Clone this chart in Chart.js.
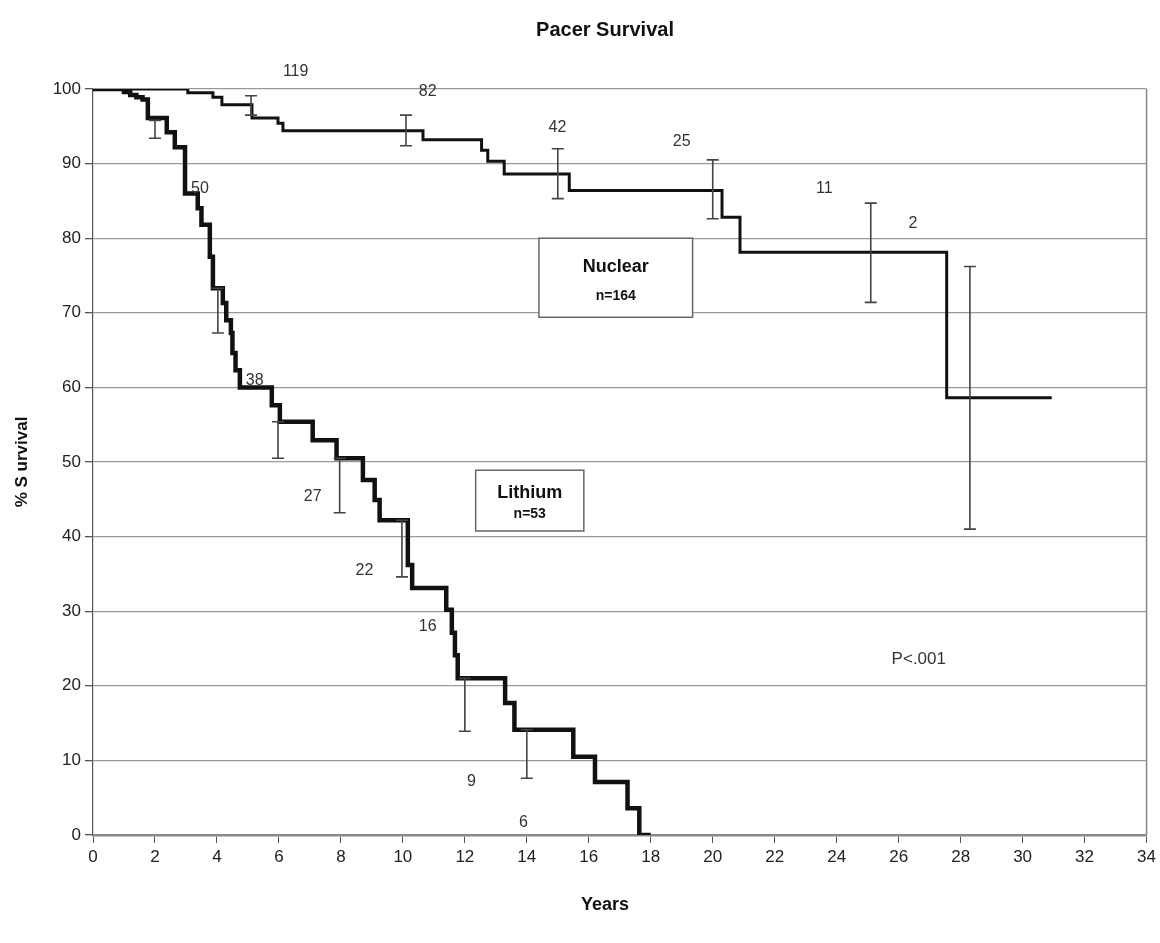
<!DOCTYPE html>
<html>
<head>
<meta charset="utf-8">
<script src="https://cdn.jsdelivr.net/npm/chart.js@4.4.1/dist/chart.umd.min.js"></script>
<style>
html,body{margin:0;padding:0;background:#fff;}
#wrap{width:1160px;height:943px;position:relative;}
</style>
</head>
<body>
<div id="wrap"><canvas id="c" width="1160" height="943"></canvas></div>
<script>
// ---- Data ----
const lithiumYears = [0, 0.8, 1.0, 1.2, 1.4, 1.6, 1.77, 1.77, 2.38, 2.64, 2.97, 3.38, 3.5, 3.77, 3.87, 4.19, 4.3, 4.45, 4.5, 4.6, 4.74, 5.77, 6.03, 7.09, 7.86, 8.71, 9.09, 9.25, 10.16, 10.3, 11.4, 11.58, 11.68, 11.77, 13.3, 13.6, 15.5, 16.2, 17.25, 17.63, 18.0];
const lithiumSurvival = [100, 100, 99.6, 99.2, 98.9, 98.6, 98.3, 96.1, 94.2, 92.2, 86.0, 84.0, 81.8, 77.5, 73.3, 71.3, 69.0, 67.3, 64.6, 62.3, 60.0, 57.6, 55.4, 52.9, 50.5, 47.6, 44.9, 42.2, 36.2, 33.1, 30.2, 27.1, 24.1, 21.0, 17.7, 14.1, 10.5, 7.1, 3.6, 0, 0];

const nuclearYears = [0, 3.06, 3.87, 4.16, 5.13, 5.97, 6.13, 10.65, 12.54, 12.74, 13.27, 15.37, 20.3, 20.88, 27.55, 30.94];
const nuclearSurvival = [100, 99.5, 98.9, 97.9, 96.1, 95.4, 94.4, 93.2, 91.8, 90.3, 88.6, 86.4, 82.8, 78.1, 58.6, 58.6];

const nuclearErrYears = [5.1, 10.1, 15.0, 20.0, 25.1, 28.3];
const nuclearErrLow  = [96.5, 92.4, 85.3, 82.6, 71.4, 41.0];
const nuclearErrHigh = [99.1, 96.5, 92.0, 90.5, 84.7, 76.2];

const lithiumErrYears = [2.0, 4.03, 5.97, 7.96, 9.97, 12.0, 14.0];
const lithiumErrLow  = [93.4, 67.3, 50.5, 43.2, 34.6, 13.9, 7.6];
const lithiumErrHigh = [95.8, 73.3, 55.4, 50.5, 42.2, 21.0, 14.1];

const nuclearAtRisk = ['119', '82', '42', '25', '11', '2'];
const nuclearAtRiskX = [6.54, 10.8, 14.99, 19.0, 23.6, 26.46];
const nuclearAtRiskY = [102.3, 99.6, 94.8, 92.9, 86.7, 82.0];

const lithiumAtRisk = ['50', '38', '27', '22', '16', '9', '6'];
const lithiumAtRiskX = [3.45, 5.22, 7.09, 8.76, 10.8, 12.21, 13.89];
const lithiumAtRiskY = [86.6, 60.9, 45.4, 35.4, 28.0, 7.2, 1.6];

const xTicks = [0,2,4,6,8,10,12,14,16,18,20,22,24,26,28,30,32,34];
const yTicks = [0,10,20,30,40,50,60,70,80,90,100];

const FONT = '"Liberation Sans", Arial, sans-serif';

function pts(xs, ys){ return xs.map((x,i)=>({x:x, y:ys[i]})); }

const overlay = {
  id: 'overlay',
  afterDatasetsDraw(chart){
    const ctx = chart.ctx;
    const xs = chart.scales.x, ys = chart.scales.y;
    const ca = chart.chartArea;
    ctx.save();
    // right border
    ctx.strokeStyle = '#888';
    ctx.lineWidth = 1.5;
    ctx.beginPath();
    ctx.moveTo(ca.right, ca.top);
    ctx.lineTo(ca.right, ca.bottom);
    ctx.stroke();

    // error bars
    function bars(xArr, lo, hi){
      ctx.strokeStyle = '#444';
      ctx.lineWidth = 1.6;
      for (let i=0;i<xArr.length;i++){
        const px = xs.getPixelForValue(xArr[i]);
        const p1 = ys.getPixelForValue(hi[i]);
        const p2 = ys.getPixelForValue(lo[i]);
        ctx.beginPath();
        ctx.moveTo(px, p1); ctx.lineTo(px, p2);
        ctx.moveTo(px-6, p1); ctx.lineTo(px+6, p1);
        ctx.moveTo(px-6, p2); ctx.lineTo(px+6, p2);
        ctx.stroke();
      }
    }
    bars(nuclearErrYears, nuclearErrLow, nuclearErrHigh);
    bars(lithiumErrYears, lithiumErrLow, lithiumErrHigh);

    // at-risk labels
    ctx.fillStyle = '#333';
    ctx.font = '16px ' + FONT;
    ctx.textAlign = 'center';
    ctx.textBaseline = 'middle';
    nuclearAtRisk.forEach((t,i)=>ctx.fillText(t, xs.getPixelForValue(nuclearAtRiskX[i]), ys.getPixelForValue(nuclearAtRiskY[i])));
    lithiumAtRisk.forEach((t,i)=>ctx.fillText(t, xs.getPixelForValue(lithiumAtRiskX[i]), ys.getPixelForValue(lithiumAtRiskY[i])));

    // P value
    ctx.font = '17px ' + FONT;
    ctx.fillText('P<.001', xs.getPixelForValue(26.65), ys.getPixelForValue(23.5));

    // group boxes
    function box(x0, x1, y0, y1, name, n){
      const l = xs.getPixelForValue(x0), r = xs.getPixelForValue(x1);
      const t = ys.getPixelForValue(y0), b = ys.getPixelForValue(y1);
      ctx.fillStyle = '#fff';
      ctx.fillRect(l, t, r-l, b-t);
      ctx.strokeStyle = '#666';
      ctx.lineWidth = 1.5;
      ctx.strokeRect(l, t, r-l, b-t);
      ctx.fillStyle = '#111';
      ctx.font = 'bold 18px ' + FONT;
      const cx = (l+r)/2;
      ctx.fillText(name, cx, t + (b-t)*0.37);
      ctx.font = 'bold 14px ' + FONT;
      ctx.fillText(n, cx, t + (b-t)*0.73);
    }
    box(14.39, 19.35, 80.0, 69.4, 'Nuclear', 'n=164');
    box(12.35, 15.84, 48.9, 40.75, 'Lithium', 'n=53');

    // titles
    ctx.fillStyle = '#111';
    ctx.font = 'bold 20px ' + FONT;
    ctx.fillText('Pacer Survival', 605, 30);
    ctx.font = 'bold 18px ' + FONT;
    ctx.fillText('Years', 605, 905);
    ctx.save();
    ctx.translate(22, 462);
    ctx.rotate(-Math.PI/2);
    ctx.font = 'bold 17px ' + FONT;
    ctx.fillText('% S urvival', 0, 0);
    ctx.restore();
    ctx.restore();
  }
};

new Chart(document.getElementById('c'), {
  type: 'line',
  data: {
    datasets: [
      {
        label: 'Nuclear',
        data: pts(nuclearYears, nuclearSurvival),
        borderColor: '#111',
        borderWidth: 3,
        stepped: true,
        pointRadius: 0,
        fill: false
      },
      {
        label: 'Lithium',
        data: pts(lithiumYears, lithiumSurvival),
        borderColor: '#111',
        borderWidth: 4.5,
        stepped: true,
        pointRadius: 0,
        fill: false
      }
    ]
  },
  options: {
    responsive: false,
    animation: false,
    layout: { padding: { top: 89, right: 13, left: 0, bottom: 0 } },
    plugins: { legend: { display: false }, title: { display: false }, tooltip: { enabled: false } },
    scales: {
      x: {
        type: 'linear',
        min: 0, max: 34,
        afterBuildTicks(s){ s.ticks = xTicks.map(v=>({value:v})); },
        afterFit(s){ s.height = 108; },
        grid: { drawOnChartArea: false, drawTicks: true, tickLength: 8, color: '#555', lineWidth: 1 },
        border: { color: '#8a8a8a', width: 2.5 },
        ticks: { color: '#222', font: { family: FONT, size: 17 }, padding: 4, maxRotation: 0, autoSkip: false }
      },
      y: {
        type: 'linear',
        min: 0, max: 100,
        afterBuildTicks(s){ s.ticks = yTicks.map(v=>({value:v})); },
        afterFit(s){ s.width = 93; },
        grid: { color: '#9a9a9a', lineWidth: 1.3, tickLength: 8, tickColor: '#555', drawTicks: true },
        border: { color: '#555', width: 1.2 },
        ticks: { color: '#222', font: { family: FONT, size: 17 }, padding: 4, autoSkip: false }
      }
    }
  },
  plugins: [overlay]
});
</script>
</body>
</html>
